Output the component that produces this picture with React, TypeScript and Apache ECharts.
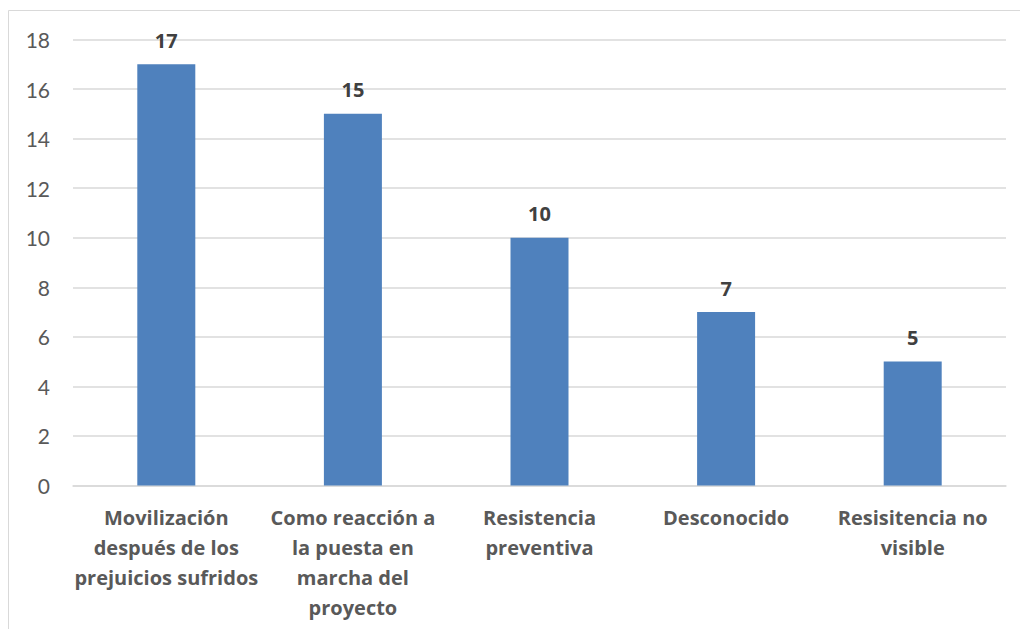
import React, { useEffect, useRef } from "react";
import * as echarts from "echarts";

const categories = [
  "Movilización\ndespués de los\nprejuicios sufridos",
  "Como reacción a\nla puesta en\nmarcha del\nproyecto",
  "Resistencia\npreventiva",
  "Desconocido",
  "Resisitencia no\nvisible",
];
const values = [17, 15, 10, 7, 5];
const yMin = 0;
const yMax = 18;
const yInterval = 2;

const FONT = "'Open Sans', Lato, sans-serif";
const TICK_FONT = "Lato, 'Open Sans', sans-serif";

export default function App() {
  const ref = useRef<HTMLDivElement>(null);
  useEffect(() => {
    if (!ref.current) return;
    const chart = echarts.init(ref.current, null, { renderer: "svg" });
    chart.setOption({
      animation: false,
      backgroundColor: "#ffffff",
      textStyle: { fontFamily: FONT },
      graphic: [
        {
          type: "rect",
          shape: { x: 8.5, y: 10.5, width: 1200, height: 800 },
          style: { fill: "none", stroke: "#d9d9d9", lineWidth: 1 },
          silent: true,
          z: -1,
        },
      ],
      grid: { left: 73, right: 14, top: 39.5, bottom: 143.5, containLabel: false },
      xAxis: {
        type: "category",
        data: categories,
        axisLine: { lineStyle: { color: "#d9d9d9", width: 1.5 } },
        axisTick: { show: false },
        axisLabel: {
          color: "#595959",
          fontFamily: FONT,
          fontWeight: "bold",
          fontSize: 20,
          lineHeight: 30,
          margin: 17,
          interval: 0,
          verticalAlign: "top",
        },
      },
      yAxis: {
        type: "value",
        min: yMin,
        max: yMax,
        interval: yInterval,
        axisLine: { show: false },
        axisTick: { show: false },
        splitLine: { lineStyle: { color: "#d9d9d9", width: 1.5 } },
        axisLabel: {
          color: "#595959",
          fontFamily: TICK_FONT,
          fontSize: 21,
          margin: 23,
        },
      },
      series: [
        {
          type: "bar",
          data: values,
          barWidth: 58,
          itemStyle: { color: "#4f81bd" },
          label: {
            show: true,
            position: "top",
            distance: 14,
            color: "#404040",
            fontFamily: FONT,
            fontWeight: "bold",
            fontSize: 20,
          },
        },
      ],
    });
    return () => chart.dispose();
  }, []);
  return (
    <div
      ref={ref}
      style={{ position: "absolute", left: 0, top: 0, width: 1020, height: 629 }}
    />
  );
}
